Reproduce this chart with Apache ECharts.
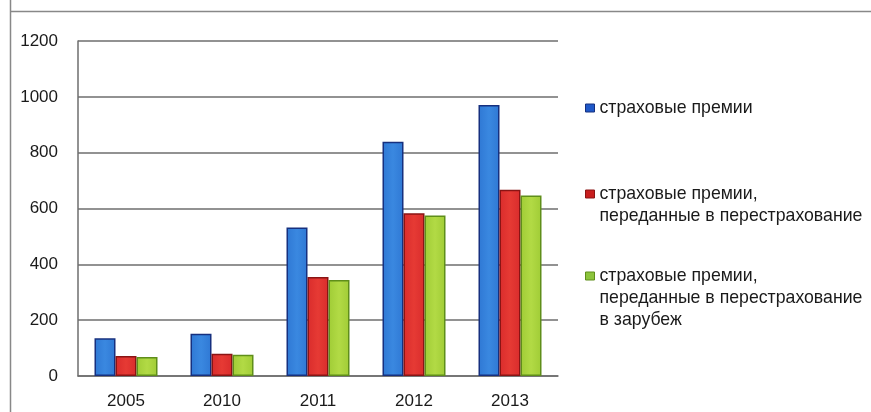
<!DOCTYPE html>
<html><head><meta charset="utf-8">
<script src="https://cdn.jsdelivr.net/npm/echarts@6/dist/echarts.min.js"></script>
<style>html,body{margin:0;padding:0;background:#fff}#c{width:871px;height:412px}</style>
</head><body><div id="c"></div>
<script>
var categories = ['2005', '2010', '2011', '2012', '2013'];
var premiums = [135, 151, 532, 839, 971];
var reinsured = [72, 80, 355, 583, 667];
var reinsuredAbroad = [68, 76, 344, 575, 647];
var seriesNames = ['страховые премии', 'страховые премии,\nпереданные в перестрахование', 'страховые премии,\nпереданные в перестрахование\nв зарубеж'];
var yTicks = [0, 200, 400, 600, 800, 1000, 1200];

var font = 'Liberation Sans';
var colors = [
  {fill: new echarts.graphic.LinearGradient(0,0,1,0,[{offset:0,color:'#2f78d4'},{offset:0.5,color:'#3a88e0'},{offset:1,color:'#2f78d4'}]), border:'#16307f', icon:'#1f58c8'},
  {fill: new echarts.graphic.LinearGradient(0,0,1,0,[{offset:0,color:'#d92c2c'},{offset:0.5,color:'#e63a34'},{offset:1,color:'#d92c2c'}]), border:'#8a1414', icon:'#c81e1e'},
  {fill: new echarts.graphic.LinearGradient(0,0,1,0,[{offset:0,color:'#a0cc36'},{offset:0.5,color:'#b2da45'},{offset:1,color:'#a0cc36'}]), border:'#5f8e1a', icon:'#8cc43c'}
];
var data = [premiums, reinsured, reinsuredAbroad];
var lineH = 22;
var firstLineY = [108, 194, 276];

var chart = echarts.init(document.getElementById('c'), null, {renderer:'canvas'});
var series = data.map(function(d, i){
  return {
    name: seriesNames[i], type:'bar', data:d, barWidth:21, barGap:'0%',
    itemStyle:{color:colors[i].fill, borderColor:colors[i].border, borderWidth:1.5},
    animation:false
  };
});
var legends = seriesNames.map(function(n, i){
  var lines = n.split('\n').length;
  var pre = '';
  for (var k = 1; k < lines; k++) pre += '\n';
  return {
    left: 580, top: firstLineY[i] - (2*lines-1)*lineH/2 - 5, orient:'vertical', itemWidth:9, itemHeight:8,
    icon:'rect', data:[{name:n, itemStyle:{color:colors[i].icon, borderColor:colors[i].border, borderWidth:1}}],
    formatter:function(name){ return pre + name; },
    textStyle:{fontFamily:font, fontSize:17.7, color:'#1a1a1a', lineHeight:lineH},
    selectedMode:false
  };
});
chart.setOption({
  backgroundColor:'#fff',
  animation:false,
  grid:{left:78, right:313, top:41, bottom:36},
  legend: legends,
  xAxis:{type:'category', data:categories,
    axisLine:{lineStyle:{color:'#6e6e6e', width:1.5}}, axisTick:{show:false},
    axisLabel:{fontFamily:font, fontSize:17, color:'#1a1a1a', margin:17}},
  yAxis:{type:'value', min:0, max:1200, interval:200,
    axisLine:{show:true, lineStyle:{color:'#6e6e6e', width:1.5}}, axisTick:{show:false},
    splitLine:{lineStyle:{color:'#6e6e6e', width:1.5}},
    axisLabel:{fontFamily:font, fontSize:17, color:'#1a1a1a', margin:20,
      formatter:function(v){return yTicks.indexOf(v)>=0 ? String(v) : '';}}},
  graphic:[
    {type:'line', shape:{x1:10.5,y1:0,x2:10.5,y2:412}, style:{stroke:'#888', lineWidth:1.5}, silent:true, z:-1},
    {type:'line', shape:{x1:10,y1:11.5,x2:871,y2:11.5}, style:{stroke:'#888', lineWidth:1.5}, silent:true, z:-1}
  ],
  series: series
});
</script>
</body></html>
